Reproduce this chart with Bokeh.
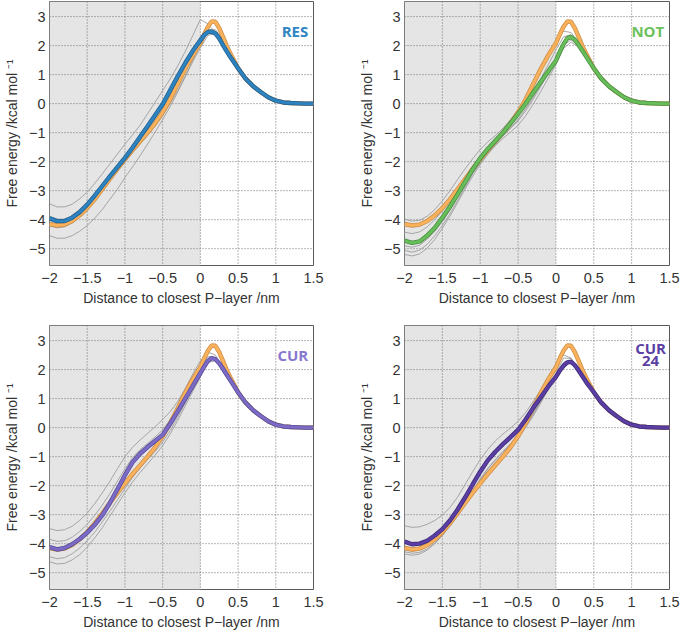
from bokeh.plotting import figure
from bokeh.layouts import column, row
from bokeh.models import BoxAnnotation, FixedTicker, Range1d, Span
from bokeh.core.properties import value
from bokeh.embed import file_html
from bokeh.resources import INLINE

# ---------------- data ----------------
X = [-2.0, -1.9, -1.8, -1.7, -1.6, -1.5, -1.4, -1.3, -1.2, -1.1,
     -1.0, -0.9, -0.8, -0.7, -0.6, -0.5, -0.4, -0.3, -0.2, -0.1,
     0.0, 0.05, 0.1, 0.15, 0.2, 0.25, 0.3, 0.35, 0.4,
     0.5, 0.6, 0.7, 0.8, 0.9, 1.0, 1.1, 1.2, 1.3, 1.4, 1.5]

# replicate curves are sampled on a coarser grid (they merge with the mean beyond 0.6)
XG = [-2.0, -1.9, -1.8, -1.7, -1.6, -1.5, -1.4, -1.3, -1.2, -1.1,
      -1.0, -0.9, -0.8, -0.7, -0.6, -0.5, -0.4, -0.3, -0.2, -0.1,
      0.0, 0.1, 0.2, 0.3, 0.4, 0.5, 0.6]

REF = [-4.15, -4.2, -4.17, -4.05, -3.85, -3.6, -3.3, -2.95, -2.6, -2.25,
       -1.92, -1.6, -1.3, -1.0, -0.68, -0.3, 0.15, 0.68, 1.2, 1.67,
       2.08, 2.38, 2.65, 2.83, 2.82, 2.6, 2.3, 1.98, 1.72,
       1.22, 0.86, 0.6, 0.4, 0.22, 0.1, 0.04, 0.02, 0.01, 0.0, 0.0]

RES = [-3.95, -4.05, -4.05, -3.93, -3.74, -3.48, -3.17, -2.84, -2.51, -2.19,
       -1.87, -1.52, -1.15, -0.78, -0.4, -0.02, 0.46, 0.94, 1.4, 1.82,
       2.18, 2.36, 2.47, 2.48, 2.42, 2.25, 2.02, 1.8, 1.6,
       1.22, 0.86, 0.6, 0.4, 0.22, 0.1, 0.04, 0.02, 0.01, 0.0, 0.0]

NOT = [-4.72, -4.8, -4.75, -4.55, -4.28, -3.93, -3.55, -3.13, -2.7, -2.27,
       -1.88, -1.56, -1.28, -1.0, -0.68, -0.35, 0.0, 0.38, 0.75, 1.12,
       1.48, 1.78, 2.05, 2.25, 2.3, 2.2, 2.02, 1.82, 1.62,
       1.22, 0.86, 0.6, 0.4, 0.22, 0.1, 0.04, 0.02, 0.01, 0.0, 0.0]

CUR = [-4.12, -4.2, -4.15, -4.02, -3.84, -3.62, -3.35, -3.02, -2.6, -2.13,
       -1.64, -1.2, -0.9, -0.67, -0.46, -0.25, 0.13, 0.56, 1.0, 1.44,
       1.88, 2.1, 2.3, 2.4, 2.36, 2.22, 2.03, 1.82, 1.62,
       1.22, 0.86, 0.6, 0.4, 0.22, 0.1, 0.04, 0.02, 0.01, 0.0, 0.0]

CUR24 = [-3.93, -4.02, -4.0, -3.9, -3.72, -3.5, -3.2, -2.83, -2.41, -1.96,
         -1.52, -1.13, -0.83, -0.57, -0.33, -0.08, 0.28, 0.68, 1.05, 1.42,
         1.75, 1.96, 2.13, 2.25, 2.27, 2.15, 1.97, 1.77, 1.57,
         1.22, 0.86, 0.6, 0.4, 0.22, 0.1, 0.04, 0.02, 0.01, 0.0, 0.0]

RES_REPS = [
    [-3.45, -3.56, -3.56, -3.47, -3.28, -3.05, -2.75, -2.42, -2.08, -1.74,
     -1.4, -1.08, -0.75, -0.35, 0.05, 0.45, 0.85, 1.3, 1.8, 2.35,
     2.9, 2.75, 2.45, 2.08, 1.62, 1.22, 0.86],
    [-3.88, -3.98, -3.98, -3.87, -3.68, -3.44, -3.14, -2.82, -2.5, -2.16,
     -1.8, -1.45, -1.12, -0.78, -0.4, 0.0, 0.45, 0.95, 1.42, 1.88,
     2.3, 2.55, 2.5, 2.1, 1.65, 1.22, 0.86],
    [-4.22, -4.28, -4.25, -4.12, -3.92, -3.66, -3.36, -3.02, -2.68, -2.34,
     -2.02, -1.7, -1.4, -1.1, -0.78, -0.42, 0.0, 0.45, 0.95, 1.5,
     2.05, 2.55, 2.55, 2.2, 1.7, 1.22, 0.86],
    [-4.55, -4.64, -4.64, -4.55, -4.4, -4.2, -3.95, -3.65, -3.3, -2.95,
     -2.55, -2.18, -1.8, -1.4, -0.98, -0.55, -0.1, 0.4, 0.92, 1.45,
     1.92, 2.35, 2.42, 2.12, 1.66, 1.22, 0.86],
]

NOT_REPS = [
    [-3.98, -4.05, -4.02, -3.88, -3.65, -3.35, -3.0, -2.62, -2.25, -1.9,
     -1.58, -1.32, -1.1, -0.85, -0.55, -0.2, 0.2, 0.65, 1.15, 1.65,
     2.15, 2.5, 2.45, 2.1, 1.65, 1.22, 0.86],
    [-4.43, -4.48, -4.42, -4.25, -4.0, -3.7, -3.35, -2.95, -2.55, -2.15,
     -1.8, -1.5, -1.25, -1.0, -0.72, -0.42, -0.05, 0.38, 0.85, 1.35,
     1.85, 2.3, 2.38, 2.05, 1.62, 1.22, 0.86],
    [-4.9, -4.95, -4.88, -4.67, -4.4, -4.07, -3.68, -3.25, -2.82, -2.4,
     -2.05, -1.72, -1.42, -1.12, -0.85, -0.55, -0.18, 0.22, 0.65, 1.08,
     1.5, 2.1, 2.28, 2.0, 1.6, 1.22, 0.86],
    [-5.06, -5.12, -5.05, -4.85, -4.55, -4.2, -3.8, -3.35, -2.88, -2.42,
     -2.02, -1.65, -1.35, -1.08, -0.85, -0.6, -0.25, 0.15, 0.6, 1.05,
     1.5, 2.0, 2.2, 1.98, 1.58, 1.22, 0.86],
    [-5.2, -5.25, -5.18, -4.98, -4.68, -4.3, -3.88, -3.42, -2.95, -2.5,
     -2.1, -1.75, -1.45, -1.2, -0.98, -0.75, -0.42, -0.02, 0.42, 0.88,
     1.35, 1.9, 2.12, 1.95, 1.56, 1.22, 0.86],
]

CUR_REPS = [
    [-3.48, -3.55, -3.52, -3.4, -3.2, -2.95, -2.62, -2.25, -1.85, -1.42,
     -1.0, -0.68, -0.43, -0.2, 0.03, 0.28, 0.55, 0.9, 1.35, 1.85,
     2.3, 2.6, 2.5, 2.05, 1.62, 1.22, 0.86],
    [-3.85, -3.92, -3.9, -3.78, -3.58, -3.33, -3.02, -2.67, -2.28, -1.85,
     -1.42, -1.04, -0.76, -0.55, -0.32, -0.08, 0.28, 0.7, 1.15, 1.62,
     2.05, 2.45, 2.4, 2.02, 1.6, 1.22, 0.86],
    [-4.45, -4.52, -4.48, -4.35, -4.15, -3.9, -3.6, -3.25, -2.88, -2.5,
     -2.1, -1.72, -1.4, -1.1, -0.82, -0.5, -0.1, 0.35, 0.85, 1.35,
     1.85, 2.35, 2.35, 2.02, 1.6, 1.22, 0.86],
    [-4.62, -4.7, -4.68, -4.56, -4.38, -4.12, -3.8, -3.45, -3.05, -2.65,
     -2.25, -1.88, -1.55, -1.25, -0.95, -0.62, -0.22, 0.25, 0.75, 1.25,
     1.75, 2.25, 2.3, 2.0, 1.6, 1.22, 0.86],
]

CUR24_REPS = [
    [-3.38, -3.44, -3.42, -3.33, -3.2, -3.02, -2.75, -2.4, -1.96, -1.52,
     -1.1, -0.75, -0.46, -0.22, -0.02, 0.22, 0.52, 0.9, 1.3, 1.75,
     2.2, 2.5, 2.4, 2.0, 1.6, 1.22, 0.86],
    [-4.2, -4.26, -4.22, -4.1, -3.9, -3.65, -3.33, -2.98, -2.6, -2.2,
     -1.8, -1.42, -1.12, -0.85, -0.58, -0.3, 0.05, 0.45, 0.9, 1.38,
     1.85, 2.4, 2.38, 2.0, 1.6, 1.22, 0.86],
    [-4.28, -4.33, -4.3, -4.18, -3.98, -3.72, -3.4, -3.05, -2.67, -2.27,
     -1.87, -1.5, -1.2, -0.93, -0.65, -0.36, 0.0, 0.4, 0.85, 1.32,
     1.8, 2.25, 2.3, 1.98, 1.58, 1.22, 0.86],
    [-4.35, -4.4, -4.36, -4.22, -4.0, -3.72, -3.38, -3.0, -2.6, -2.18,
     -1.77, -1.4, -1.1, -0.82, -0.55, -0.25, 0.1, 0.5, 0.92, 1.35,
     1.75, 2.15, 2.22, 1.95, 1.56, 1.22, 0.86],
]

X_TICKS = [-2.0, -1.5, -1.0, -0.5, 0.0, 0.5, 1.0, 1.5]
X_TICK_LABELS = ["\u22122", "\u22121.5", "\u22121", "\u22120.5", "0", "0.5", "1", "1.5"]
Y_TICKS = [-5.0, -4.0, -3.0, -2.0, -1.0, 0.0, 1.0, 2.0, 3.0]
Y_TICK_LABELS = ["\u22125", "\u22124", "\u22123", "\u22122", "\u22121", "0", "1", "2", "3"]

X_LABEL = "Distance to closest P\u2212layer /nm"
Y_LABEL = "Free energy /kcal mol \u207b\u00b9"

FONT = "Liberation Sans"
TXT = "#333333"


def make_panel(mean, reps, color, edge, label_lines, label_color, lx,
               width, border_left, border_right, border_top, border_bottom):
    p = figure(width=width, height=317, output_backend="svg", toolbar_location=None,
               x_range=Range1d(-2.0, 1.5), y_range=Range1d(-5.58, 3.52),
               min_border_left=border_left, min_border_right=border_right,
               min_border_top=border_top, min_border_bottom=border_bottom)
    p.background_fill_color = "white"
    p.border_fill_color = "white"
    p.outline_line_color = "#5a5a5a"
    p.outline_line_width = 1
    p.xgrid.visible = False
    p.ygrid.visible = False

    shade = BoxAnnotation(right=0, fill_color="#e5e5e5", fill_alpha=1.0,
                          line_color=None, level="image")
    p.add_layout(shade)
    # dotted grid at the tick positions
    for t in X_TICKS[1:-1]:
        p.add_layout(Span(location=t, dimension="height", line_color="#707070",
                          line_dash="1 2", line_width=1, level="image"))
    for t in Y_TICKS:
        p.add_layout(Span(location=t, dimension="width", line_color="#707070",
                          line_dash="1 2", line_width=1, level="image"))

    p.xaxis.ticker = FixedTicker(ticks=X_TICKS)
    p.yaxis.ticker = FixedTicker(ticks=Y_TICKS)
    p.xaxis.major_label_overrides = dict(zip(X_TICKS, X_TICK_LABELS))
    p.yaxis.major_label_overrides = dict(zip(Y_TICKS, Y_TICK_LABELS))
    for ax in (p.xaxis[0], p.yaxis[0]):
        ax.axis_line_color = None
        ax.major_tick_line_color = None
        ax.minor_tick_line_color = None
        ax.major_tick_out = 0
        ax.major_tick_in = 0
        ax.minor_tick_out = 0
        ax.minor_tick_in = 0
        ax.major_label_text_font = FONT
        ax.major_label_text_font_size = "14.5px"
        ax.major_label_text_color = TXT
        ax.axis_label_text_font = FONT
        ax.axis_label_text_font_size = "14px"
        ax.axis_label_text_font_style = "normal"
        ax.axis_label_text_color = TXT
    p.xaxis.axis_label = X_LABEL
    p.yaxis.axis_label = Y_LABEL
    p.xaxis.major_label_standoff = 7
    p.xaxis.axis_label_standoff = 4
    p.yaxis.major_label_standoff = 4
    p.yaxis.axis_label_standoff = 6

    for r in reps:
        p.line(XG, r, line_color="#9d9d9d", line_width=0.9)

    p.line(X, REF, line_color="#cf9048", line_width=4.4)
    p.line(X, REF, line_color="#fab15c", line_width=2.8)
    p.line(X, mean, line_color=edge, line_width=4.4)
    p.line(X, mean, line_color=color, line_width=2.9)

    if len(label_lines) == 1:
        p.text(x=[lx], y=[2.5], text=[label_lines[0]], text_align="right",
               text_baseline="middle", text_font=value("Open Sans"),
               text_font_style="bold", text_font_size="15px", text_color=label_color)
    else:
        p.text(x=[lx, lx], y=[2.74, 2.28], text=label_lines, text_align="center",
               text_baseline="middle", text_font=value("Open Sans"),
               text_font_style="bold", text_font_size="15px", text_color=label_color)
    return p


p1 = make_panel(RES, RES_REPS, "#2d83c0", "#22608f", ["RES"], "#2f86c3", 1.43,
                340, 49, 27, 1, 52)
p2 = make_panel(NOT, NOT_REPS, "#67bd5a", "#468f3f", ["NOT"], "#6cc15c", 1.43,
                341, 64, 12, 1, 52)
p3 = make_panel(CUR, CUR_REPS, "#7b6bc6", "#574b9a", ["CUR"], "#8777cf", 1.43,
                340, 49, 27, 8, 45)
p4 = make_panel(CUR24, CUR24_REPS, "#5a3ea3", "#3e2b7a", ["CUR", "24"], "#5b3fa5", 1.25,
                341, 64, 12, 8, 45)

layout = column(row(p1, p2, spacing=0), row(p3, p4, spacing=0), spacing=0)

with open("out.html", "w") as f:
    f.write(file_html(layout, INLINE))
